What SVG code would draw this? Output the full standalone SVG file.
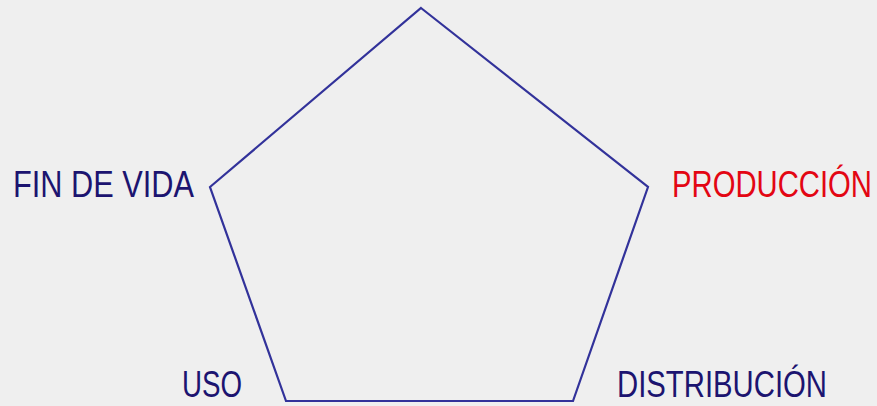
<svg xmlns="http://www.w3.org/2000/svg" width="877" height="406" viewBox="0 0 877 406">
<style>
.lbl{font-family:"Liberation Sans Narrow","Liberation Sans",Arial,sans-serif;font-size:36px;fill:#1c1470}
.red{fill:#e30613}
.edge{fill:none;stroke:#32329a;stroke-width:2.2;stroke-linejoin:miter}
</style>
<rect width="877" height="406" fill="#efefef"/>
<g id="connectors">
<polygon class="edge" points="421,8 648,187 573,401 286,401 210,187"/>
</g>
<g id="fin-de-vida"><text class="lbl" x="13" y="197" textLength="181" lengthAdjust="spacingAndGlyphs">FIN DE VIDA</text></g>
<g id="produccion"><text class="lbl red" x="672" y="197" textLength="200" lengthAdjust="spacingAndGlyphs">PRODUCCIÓN</text></g>
<g id="uso"><text class="lbl" x="182" y="397" textLength="60" lengthAdjust="spacingAndGlyphs">USO</text></g>
<g id="distribucion"><text class="lbl" x="617" y="397" textLength="210" lengthAdjust="spacingAndGlyphs">DISTRIBUCIÓN</text></g>
</svg>
